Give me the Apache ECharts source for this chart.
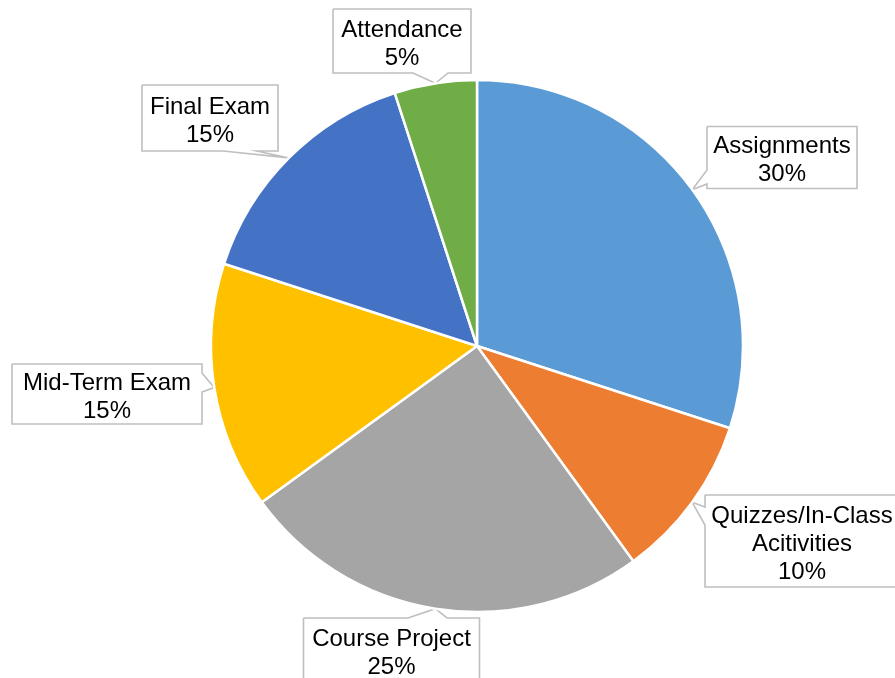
<!DOCTYPE html>
<html>
<head>
<meta charset="utf-8">
<script src="https://cdn.jsdelivr.net/npm/echarts@6/dist/echarts.min.js"></script>
<style>
html,body{margin:0;padding:0;background:#fff;}
#chart{width:895px;height:678px;}
</style>
</head>
<body>
<div id="chart"></div>
<script>
const categories = ['Assignments', 'Quizzes/In-Class\nAcitivities', 'Course Project', 'Mid-Term Exam', 'Final Exam', 'Attendance'];
const values = [30, 10, 25, 15, 15, 5];
const colors = ['#5B9BD5', '#ED7D31', '#A5A5A5', '#FFC000', '#4472C4', '#70AD47'];

// callout box layout (label placement only)
const callouts = [
  { cx: 782, cy: 157.5, w: 150, h: 62, side: 'left',   b1: 170, b2: 184 },
  { cx: 805, cy: 541,   w: 200, h: 92, side: 'left',   b1: 507, b2: 525, tx: 802 },
  { cx: 391.5, cy: 650, w: 176, h: 64, side: 'top',    b1: 408, b2: 447 },
  { cx: 107, cy: 394,   w: 190, h: 60, side: 'right',  b1: 373, b2: 392 },
  { cx: 210, cy: 118,   w: 136, h: 66, side: 'bottom', b1: 223, b2: 257 },
  { cx: 402, cy: 41,    w: 138, h: 64, side: 'bottom', b1: 413, b2: 448 }
];
const textShiftY = 3;

function outline(b, tip) {
  const l = b.cx - b.w / 2, r = b.cx + b.w / 2, t = b.cy - b.h / 2, bt = b.cy + b.h / 2;
  const pts = [[l, t]];
  if (b.side === 'top') pts.push([b.b1, t], tip, [b.b2, t]);
  pts.push([r, t]);
  if (b.side === 'right') pts.push([r, b.b1], tip, [r, b.b2]);
  pts.push([r, bt]);
  if (b.side === 'bottom') pts.push([b.b2, bt], tip, [b.b1, bt]);
  pts.push([l, bt]);
  if (b.side === 'left') pts.push([l, b.b2], tip, [l, b.b1]);
  pts.push([l, t]);
  return pts;
}

const chart = echarts.init(document.getElementById('chart'), null, { renderer: 'canvas' });
chart.setOption({
  animation: false,
  backgroundColor: '#ffffff',
  color: colors,
  series: [{
    type: 'pie',
    center: [477, 346],
    radius: [0, 266],
    startAngle: 90,
    clockwise: true,
    avoidLabelOverlap: false,
    data: categories.map((c, i) => ({ name: c, value: values[i] })),
    itemStyle: { borderColor: '#ffffff', borderWidth: 2.5 },
    label: {
      show: true,
      position: 'outside',
      formatter: '{b}\n{d}%',
      fontFamily: 'Liberation Sans, Arial, sans-serif',
      fontSize: 24,
      lineHeight: 28,
      color: '#000000'
    },
    labelLine: {
      show: true,
      lineStyle: { color: '#BFBFBF', width: 1.6 }
    },
    labelLayout: function (params) {
      const b = callouts[params.dataIndex];
      const tip = params.labelLinePoints[0];
      return {
        x: b.tx != null ? b.tx : b.cx,
        y: b.cy + textShiftY,
        align: 'center',
        verticalAlign: 'middle',
        labelLinePoints: outline(b, [tip[0], tip[1]])
      };
    },
    emphasis: { disabled: true }
  }]
});
</script>
</body>
</html>
